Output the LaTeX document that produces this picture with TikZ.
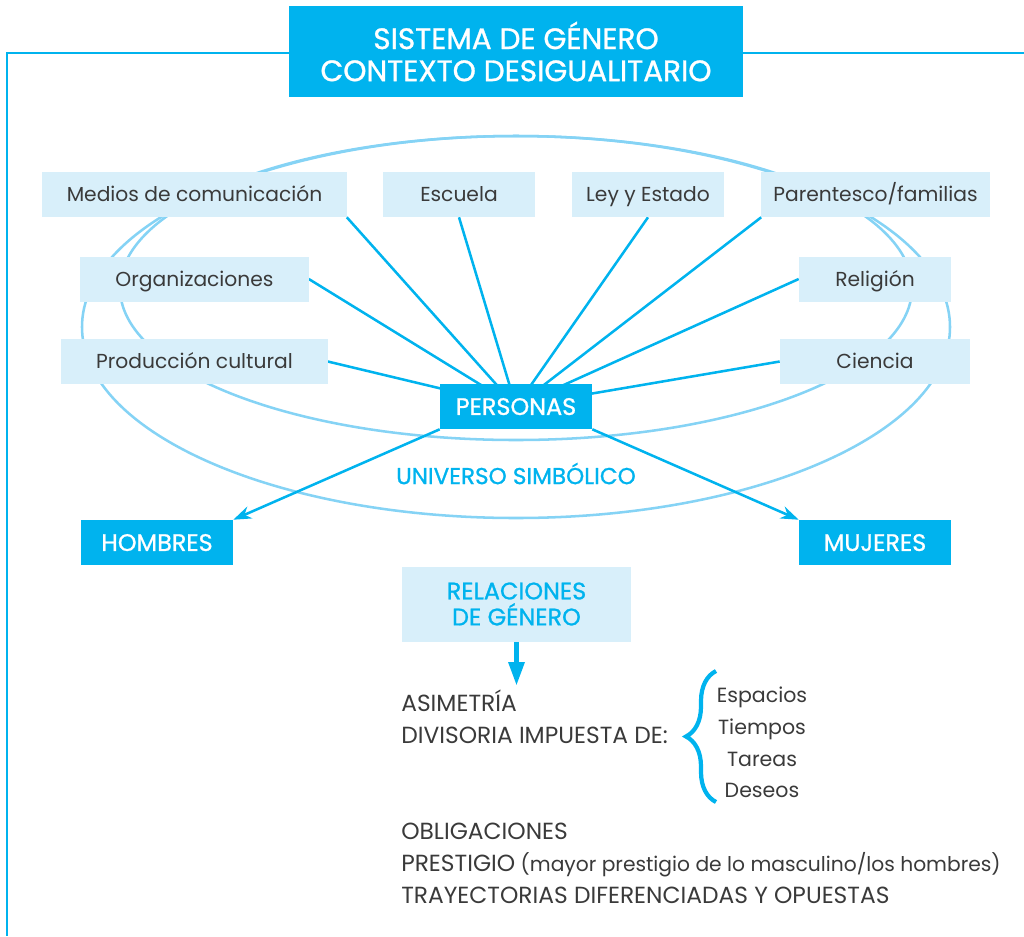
\documentclass[tikz,border=0pt]{standalone}
\usepackage{fontspec}
\setmainfont{Poppins}
\newfontfamily\medio{Poppins}[FakeBold=1]
\usepackage{tikz}
\usetikzlibrary{arrows.meta,backgrounds,decorations.pathreplacing}

\definecolor{azul}{HTML}{00B3EE}
\definecolor{celeste}{HTML}{D8EFFA}
\definecolor{anillo}{HTML}{85D3F5}
\definecolor{texto}{HTML}{3A3A3A}

\begin{document}
\begin{tikzpicture}[x=0.025cm, y=-0.025cm,
    ctx/.style={fill=celeste, text=texto, minimum height=1.125cm, inner sep=0pt,
      text height=13.2pt, text depth=3pt, font=\fontsize{14.4}{17}\selectfont},
    clave/.style={fill=azul, text=white, minimum height=1.125cm, inner sep=0pt,
      text height=15pt, text depth=3pt, font=\medio\fontsize{17}{19}\selectfont},
    lista/.style={text=texto, inner sep=0pt, font=\fontsize{16.6}{19}\selectfont},
    item/.style={text=texto, inner sep=0pt, font=\fontsize{14.6}{17}\selectfont},
    enlace/.style={azul, line width=1.8pt},
    flecha/.style={azul, line width=1.8pt, -{Stealth[length=0.45cm, width=0.32cm]}},
    bajar/.style={azul, line width=3.8pt, -{Triangle[length=0.6cm, width=0.38cm]}},
    llave/.style={azul, line width=3pt, decorate,
      decoration={brace, amplitude=0.75cm}}]
    \useasboundingbox (0,0) rectangle (1024,936);

    \def\anilloext{(516,327) ellipse [x radius=434, y radius=191]}
    \def\anilloint{(516,288) ellipse [x radius=396, y radius=152]}

    % title
    \node[fill=azul, text=white, align=center, inner sep=0pt,
      minimum width=11.35cm, minimum height=2.275cm,
      font=\medio\fontsize{21}{22.8}\selectfont] (sistema) at (516,51.5)
      {SISTEMA DE GÉNERO\\CONTEXTO DESIGUALITARIO};

    % agents of socialization
    \node[ctx, minimum width=7.6cm] (medios) at (194.5,194.5) {Medios de comunicación};
    \node[ctx, minimum width=3.8cm] (escuela) at (459,194.5) {Escuela};
    \node[ctx, minimum width=3.8cm] (ley) at (648,194.5) {Ley y Estado};
    \node[ctx, minimum width=5.7cm] (parentesco) at (875.5,194.5) {Parentesco/familias};
    \node[ctx, minimum width=5.7cm] (organiz) at (194.5,279) {Organizaciones};
    \node[ctx, minimum width=3.8cm] (religion) at (875,279) {Religión};
    \node[ctx, minimum width=6.65cm] (produccion) at (194.5,361.5) {Producción cultural};
    \node[ctx, minimum width=4.75cm] (ciencia) at (875,361.5) {Ciencia};

    \node[clave, minimum width=3.8cm] (personas) at (516,406.5) {PERSONAS};
    \node[text=azul, inner sep=0pt, font=\medio\fontsize{16.4}{19}\selectfont] (universo)
      at (516,473.5) {UNIVERSO SIMBÓLICO};
    \node[clave, minimum width=3.8cm] (hombres) at (157,542.5) {HOMBRES};
    \node[clave, minimum width=3.8cm] (mujeres) at (875,542.5) {MUJERES};

    \node[ctx, minimum width=5.7cm, minimum height=1.875cm, text=azul, align=center,
      text height=, text depth=,
      font=\medio\fontsize{17}{18.5}\selectfont] (relaciones) at (516.5,604) {RELACIONES\\DE GÉNERO};
    \coordinate (bajada) at (516.5,686);

    % what the relations impose
    \node[lista, anchor=base west] (asimetria) at (401,711) {ASIMETRÍA};
    \node[lista, anchor=base west] (divisoria) at (401,743) {DIVISORIA IMPUESTA DE:};
    \node[item, anchor=base] (espacios) at (762,702.5) {Espacios};
    \node[item, anchor=base] (tiempos) at (762,734) {Tiempos};
    \node[item, anchor=base] (tareas) at (762,766) {Tareas};
    \node[item, anchor=base] (deseos) at (762,797.5) {Deseos};
    \node[lista, anchor=base west] (obligaciones) at (401,839) {OBLIGACIONES};
    \node[item, anchor=base west, font=\fontsize{14.4}{17}\selectfont] (prestigio) at (401,871)
      {{\fontsize{16.6}{19}\selectfont PRESTIGIO} (mayor prestigio de lo masculino/los hombres)};
    \node[lista, anchor=base west] (trayectorias) at (401,903) {TRAYECTORIAS DIFERENCIADAS Y OPUESTAS};

    \draw[llave] (716,802) -- (716,671);

    \begin{scope}[on background layer]
      \draw[azul, line width=1.8pt] (1024,53) -- (7,53) -- (7,936);
      \draw[anillo, line width=1.8pt] \anilloext;
      \draw[anillo, line width=1.8pt] \anilloint;
      \draw[enlace] (medios.south east) -- (personas.center);
      \draw[enlace] (escuela.south) -- (personas.center);
      \draw[enlace] (ley.south) -- (personas.center);
      \draw[enlace] (parentesco.south west) -- (personas.center);
      \draw[enlace] (organiz.east) -- (personas.center);
      \draw[enlace] (religion.west) -- (personas.center);
      \draw[enlace] (produccion.east) -- (personas.center);
      \draw[enlace] (ciencia.west) -- (personas.center);
    \end{scope}

    \draw[flecha] (personas.south west) -- (hombres.north east);
    \draw[flecha] (personas.south east) -- (mujeres.north west);
    \draw[bajar] (relaciones.south) -- (bajada);
  \end{tikzpicture}
\end{document}
